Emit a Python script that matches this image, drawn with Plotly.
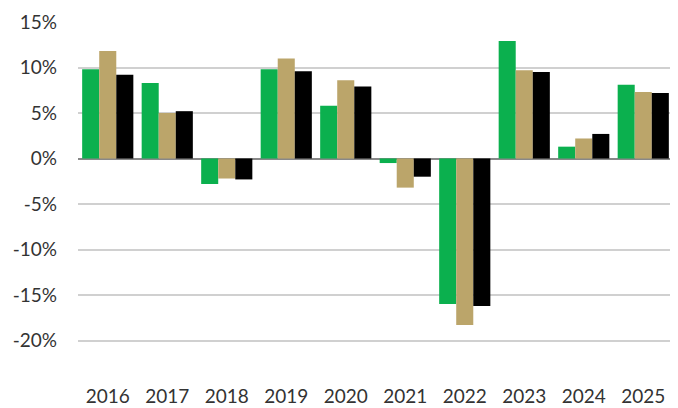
import plotly.graph_objects as go

years = ['2016', '2017', '2018', '2019', '2020', '2021', '2022', '2023', '2024', '2025']
series_a = [9.8, 8.3, -2.8, 9.8, 5.8, -0.5, -16.0, 12.9, 1.3, 8.1]
series_b = [11.8, 5.0, -2.2, 11.0, 8.6, -3.2, -18.3, 9.7, 2.2, 7.3]
series_c = [9.2, 5.2, -2.3, 9.6, 7.9, -2.0, -16.2, 9.5, 2.7, 7.2]

tick_vals = [15, 10, 5, 0, -5, -10, -15, -20]
tick_text = [f'{v}%' for v in tick_vals]

GREEN = '#0BB04E'
TAN = '#BBA56A'
BLACK = '#000000'
FONT = 'Lato, Roboto, sans-serif'

fig = go.Figure()
for vals, col in [(series_a, GREEN), (series_b, TAN), (series_c, BLACK)]:
    fig.add_trace(go.Bar(
        x=years,
        y=vals,
        marker=dict(color=col, line=dict(width=0)),
        showlegend=False,
    ))

# the page body adds an 8px offset, so the figure is sized 8px smaller
fig.update_layout(
    width=670,
    height=400,
    margin=dict(l=70, r=5, t=14, b=22),
    barmode='group',
    bargap=0.14,
    bargroupgap=0,
    paper_bgcolor='white',
    plot_bgcolor='white',
    font=dict(family=FONT, color='#333333', size=19),
    xaxis=dict(
        showgrid=False,
        showline=False,
        ticks='',
        tickfont=dict(size=19),
        ticklabelstandoff=-3,
        automargin=False,
    ),
    yaxis=dict(
        range=[-25, 15],
        tickvals=tick_vals,
        ticktext=tick_text,
        showgrid=True,
        gridcolor='#D0D0D0',
        gridwidth=1.5,
        zeroline=True,
        zerolinecolor='#888888',
        zerolinewidth=2,
        ticks='',
        ticklabelstandoff=20,
        tickfont=dict(size=19),
        automargin=False,
    ),
)

fig.write_html('out.html')
